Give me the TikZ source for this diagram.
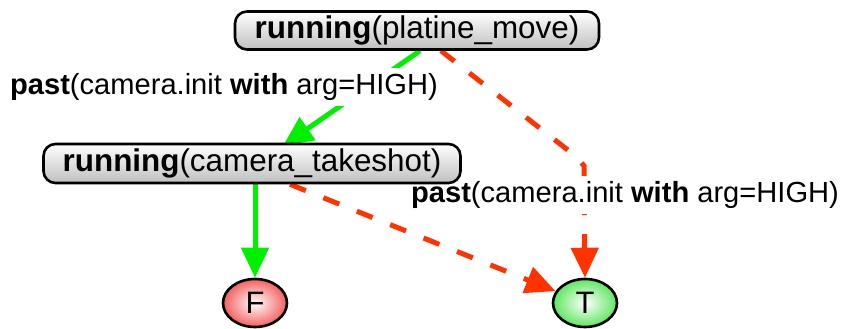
\documentclass[tikz,border=0pt]{standalone}
\usepackage{fontspec}
\setmainfont{Liberation Sans}
\usetikzlibrary{arrows.meta,shapes.geometric}
\definecolor{edgegreen}{RGB}{0,240,0}
\definecolor{edgered}{RGB}{255,50,0}
\definecolor{fred}{RGB}{245,95,95}
\definecolor{tgreen}{RGB}{95,230,95}
\pgfdeclarelayer{edges}
\pgfdeclarelayer{labels}
\pgfsetlayers{edges,labels,main}
\begin{document}
\begin{tikzpicture}[x=1pt,y=-1pt, >={Triangle[length=30pt,width=27pt]}, line join=round, line cap=round,
	opbox/.style={draw=black, line width=2.6pt, rounded corners=12pt, inner sep=0pt,
		top color=white, bottom color=black!25, font=\fontsize{31.4}{36}\selectfont},
	leaf/.style={draw=black, line width=2.6pt, ellipse, inner sep=0pt, minimum width=64pt, minimum height=48pt,
		inner color=white, font=\fontsize{31}{36}\selectfont},
	hi/.style={edgegreen, line width=5pt},
	lo/.style={edgered, line width=5pt, dash pattern=on 17pt off 19pt},
	cond/.style={font=\fontsize{29.1}{34}\selectfont, fill=white, inner xsep=1pt, inner ysep=5pt}]
	\useasboundingbox (0,0) rectangle (848,329);
	\node[opbox, minimum width=364pt, minimum height=38pt] (platine) at (417,30.5) {\textbf{running}(platine\_move)};
	\node[opbox, minimum width=417pt, minimum height=39pt] (camera) at (252,163.5) {\textbf{running}(camera\_takeshot)};
	\node[leaf, outer color=fred] (F) at (255,303) {F};
	\node[leaf, outer color=tgreen] (T) at (585,303) {T};
	\coordinate (bend) at (584,166);
	\begin{pgfonlayer}{edges}
		% high edges
		\draw[hi, ->] ([xshift=3pt]platine.south) -- ([xshift=31pt,yshift=-3pt]camera.north);
		\draw[hi, ->] (F|-camera.south) -- (F.north);
		% low edges
		\draw[lo, ->] ([xshift=24pt]platine.south) -- (578,158) -- (bend) -- (T.north);
		\draw[lo, ->] ([xshift=38pt]camera.south) -- (T);
	\end{pgfonlayer}
	\begin{pgfonlayer}{labels}
		% conditions
		\node[cond] (c1) at (224,87) {\textbf{past}(camera.init \textbf{with} arg=HIGH)};
		\node[cond] (c2) at (625,195) {\textbf{past}(camera.init \textbf{with} arg=HIGH)};
	\end{pgfonlayer}
\end{tikzpicture}
\end{document}
